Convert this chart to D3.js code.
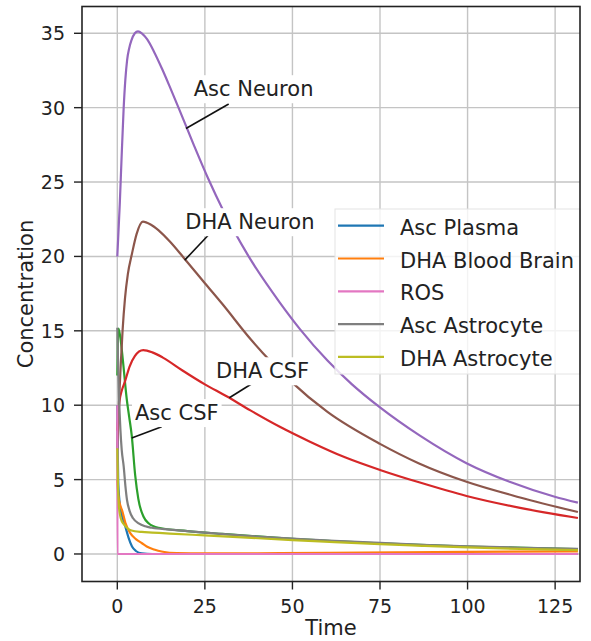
<!DOCTYPE html>
<html>
<head>
<meta charset="utf-8">
<title>Concentration over time</title>
<script src="https://d3js.org/d3.v7.min.js"></script>
<style>
  body { margin: 0; background: #fff; }
  text { font-family: "DejaVu Sans", sans-serif; fill: #222; }
</style>
</head>
<body>
<div id="chart"></div>
<script>
// values, [time, concentration]
var ascPlasma = [[0,10],[0.1,7.5],[0.25,5.0],[0.6,3.6],[1.2,2.7],[2.3,1.84],[3.2,1.1],[4.2,0.5],[5.3,0.2],[7,0.04],[10,0],[131.5,0]];
var dhaBloodBrain = [[0,5],[0.3,3.9],[0.8,3.3],[1.34,2.95],[2.3,2.1],[3.7,1.4],[5.3,1.0],[7.05,0.72],[8.4,0.5],[10.5,0.3],[13,0.15],[17,0.06],[25,0.04],[40,0.05],[60,0.08],[80,0.11],[100,0.14],[131.5,0.18]];
var ascCSF = [[0,12.0],[0.15,14.5],[0.35,15.15],[0.9,14.5],[1.6,13.0],[2.7,10.4],[3.4,9.2],[4.1,8.0],[5.1,5.3],[6.0,3.7],[7.5,2.5],[9,2.05],[11.8,1.76],[20,1.54],[30,1.35],[50,1.02],[75,0.72],[100,0.5],[131.5,0.33]];
var dhaCSF = [[0,8.3],[0.6,10.2],[1.3,11.0],[2.2,11.6],[3.5,12.6],[5,13.3],[7.4,13.7],[10,13.55],[13,13.2],[18.5,12.35],[25,11.4],[31.2,10.6],[38,9.65],[46.4,8.55],[55,7.55],[65,6.5],[75,5.65],[86.4,4.8],[99.7,3.9],[115,3.1],[131.5,2.42]];
var ascNeuron = [[0,20],[0.7,23.5],[1.2,26.5],[1.8,29.9],[2.3,31.9],[2.8,33.2],[3.4,34.0],[4.0,34.5],[5,35.0],[5.9,35.13],[7,35.0],[8.5,34.6],[10.4,33.8],[12.8,32.6],[15,31.4],[18,29.7],[22,27.4],[26,25.2],[30,23.2],[37.5,20.0],[46.4,16.9],[52.2,15.1],[60,13.0],[67,11.4],[75,9.85],[86.4,7.95],[99.7,6.1],[112,4.85],[124.9,3.85],[131.5,3.45]];
var dhaNeuron = [[0,7],[0.5,10.3],[1.0,12.8],[1.5,15.0],[2.2,17.2],[3,18.8],[4.2,20.2],[5.5,21.5],[7.3,22.34],[9.5,22.15],[11.8,21.75],[15,21.0],[19,19.9],[25,18.2],[30,16.8],[38.2,14.4],[41.6,13.5],[49.3,11.65],[60,9.55],[75,7.4],[86,6.1],[99.7,4.85],[115,3.8],[131.5,2.82]];
var ros = [[0,10],[0.03,0],[131.5,0]];
var ascAstrocyte = [[0,15.2],[0.2,13],[0.5,10.5],[0.9,8.3],[1.26,7.0],[1.83,5.87],[2.3,4.6],[2.77,3.63],[3.5,2.9],[4.5,2.4],[6.1,2.06],[8,1.86],[9.9,1.76],[15,1.64],[25,1.43],[37,1.22],[50,1.04],[62,0.88],[75,0.74],[87,0.62],[100,0.52],[115,0.42],[131.5,0.35]];
var dhaAstrocyte = [[0,7.1],[0.15,5.0],[0.4,3.4],[0.8,2.6],[1.3,2.2],[1.83,2.0],[2.6,1.8],[3.6,1.62],[5,1.53],[7,1.48],[10,1.44],[15,1.37],[25,1.25],[37,1.1],[50,0.93],[62,0.8],[75,0.66],[87,0.55],[100,0.44],[115,0.34],[131.5,0.26]];

var seriesNames = ["Asc Plasma", "DHA Blood Brain", "Asc CSF", "DHA CSF", "Asc Neuron", "DHA Neuron", "ROS", "Asc Astrocyte", "DHA Astrocyte"];
var seriesColors = ["#1f77b4", "#ff7f0e", "#2ca02c", "#d62728", "#9467bd", "#8c564b", "#e377c2", "#7f7f7f", "#bcbd22"];
var legendNames = ["Asc Plasma", "DHA Blood Brain", "ROS", "Asc Astrocyte", "DHA Astrocyte"];

// annotations: label, text spot, point on curve, line end
var annLabels = ["Asc Neuron", "DHA Neuron", "DHA CSF", "Asc CSF"];
var annText = [[21.8, 30.77], [19.4, 21.83], [28.2, 11.81], [5.05, 9.0]];
var annPoint = [[19.6, 28.6], [19.24, 19.75], [32.0, 10.5], [4.11, 7.8]];
var annEnd = [[31.8, 30.25], [26.5, 21.56], [39.3, 11.58], [12.67, 8.56]];

var xTicks = [0, 25, 50, 75, 100, 125];
var yTicks = [0, 5, 10, 15, 20, 25, 30, 35];

var seriesData = [ascPlasma, dhaBloodBrain, ascCSF, dhaCSF, ascNeuron, dhaNeuron, ros, ascAstrocyte, dhaAstrocyte];

// plot box
var W = 591, H = 641;
var plotL = 82, plotR = 580, plotT = 6.5, plotB = 581.5;

var svg = d3.select("#chart").append("svg")
  .attr("width", W)
  .attr("height", H);

var x = d3.scaleLinear().domain([-10.08, 132.1]).range([plotL, plotR]);
var y = d3.scaleLinear().domain([-1.85, 36.8]).range([plotB, plotT]);

svg.append("clipPath").attr("id", "plotclip")
  .append("rect")
  .attr("x", plotL).attr("y", plotT)
  .attr("width", plotR - plotL).attr("height", plotB - plotT);

// grid
svg.append("g").selectAll("line").data(xTicks).enter().append("line")
  .attr("x1", function(d) { return x(d); }).attr("x2", function(d) { return x(d); })
  .attr("y1", plotT).attr("y2", plotB)
  .attr("stroke", "#c4c4c4").attr("stroke-width", 1.4);
svg.append("g").selectAll("line").data(yTicks).enter().append("line")
  .attr("y1", function(d) { return y(d); }).attr("y2", function(d) { return y(d); })
  .attr("x1", plotL).attr("x2", plotR)
  .attr("stroke", "#c4c4c4").attr("stroke-width", 1.4);

// curves
var line = d3.line()
  .x(function(d) { return x(d[0]); })
  .y(function(d) { return y(d[1]); })
  .curve(d3.curveMonotoneX);

svg.append("g").attr("clip-path", "url(#plotclip)")
  .selectAll("path").data(seriesData).enter().append("path")
  .attr("d", line)
  .attr("fill", "none")
  .attr("stroke", function(d, i) { return seriesColors[i]; })
  .attr("stroke-width", 2.2)
  .attr("stroke-linejoin", "round");

// annotation lines and boxed labels
var ann = svg.append("g");
annLabels.forEach(function(lbl, i) {
  ann.append("line")
    .attr("x1", x(annPoint[i][0])).attr("y1", y(annPoint[i][1]))
    .attr("x2", x(annEnd[i][0])).attr("y2", y(annEnd[i][1]))
    .attr("stroke", "#111").attr("stroke-width", 1.6);
  var g = ann.append("g");
  var bg = g.append("rect").attr("fill", "#fff");
  var t = g.append("text")
    .attr("x", x(annText[i][0]))
    .attr("y", y(annText[i][1]))
    .attr("font-size", "21px")
    .text(lbl);
  var b = t.node().getBBox();
  bg.attr("x", b.x - 3).attr("y", b.y - 2)
    .attr("width", b.width + 6).attr("height", b.height + 4);
});

// legend
var legendTop = 209, rowGap = 32.8, firstRow = 225.7;
var leg = svg.append("g");
leg.append("rect")
  .attr("x", 335).attr("y", legendTop)
  .attr("width", 245).attr("height", 165)
  .attr("fill", "#fff").attr("fill-opacity", 0.8)
  .attr("stroke", "#e4e4e4").attr("stroke-width", 1);
legendNames.forEach(function(name, i) {
  var c = seriesColors[seriesNames.indexOf(name)];
  var yy = firstRow + i * rowGap;
  leg.append("line")
    .attr("x1", 338).attr("x2", 384)
    .attr("y1", yy).attr("y2", yy)
    .attr("stroke", c).attr("stroke-width", 2.2);
  leg.append("text")
    .attr("x", 400).attr("y", yy + 9)
    .attr("font-size", "21px")
    .text(name);
});

// frame
svg.append("rect")
  .attr("x", plotL).attr("y", plotT)
  .attr("width", plotR - plotL).attr("height", plotB - plotT)
  .attr("fill", "none").attr("stroke", "#222").attr("stroke-width", 1.6);

// ticks
svg.append("g").selectAll("line").data(xTicks).enter().append("line")
  .attr("x1", function(d) { return x(d); }).attr("x2", function(d) { return x(d); })
  .attr("y1", plotB).attr("y2", plotB + 8)
  .attr("stroke", "#222").attr("stroke-width", 1.4);
svg.append("g").selectAll("text").data(xTicks).enter().append("text")
  .attr("x", function(d) { return x(d); })
  .attr("y", 613)
  .attr("text-anchor", "middle")
  .attr("font-size", "19px")
  .text(function(d) { return d; });

svg.append("g").selectAll("line").data(yTicks).enter().append("line")
  .attr("y1", function(d) { return y(d); }).attr("y2", function(d) { return y(d); })
  .attr("x1", plotL - 8).attr("x2", plotL)
  .attr("stroke", "#222").attr("stroke-width", 1.4);
svg.append("g").selectAll("text").data(yTicks).enter().append("text")
  .attr("x", 65)
  .attr("y", function(d) { return y(d) + 7; })
  .attr("text-anchor", "end")
  .attr("font-size", "19px")
  .text(function(d) { return d; });

// axis labels
svg.append("text")
  .attr("x", (plotL + plotR) / 2).attr("y", 635)
  .attr("text-anchor", "middle")
  .attr("font-size", "21px")
  .text("Time");
svg.append("text")
  .attr("transform", "translate(33," + ((plotT + plotB) / 2) + ") rotate(-90)")
  .attr("text-anchor", "middle")
  .attr("font-size", "21px")
  .text("Concentration");
</script>
</body>
</html>
